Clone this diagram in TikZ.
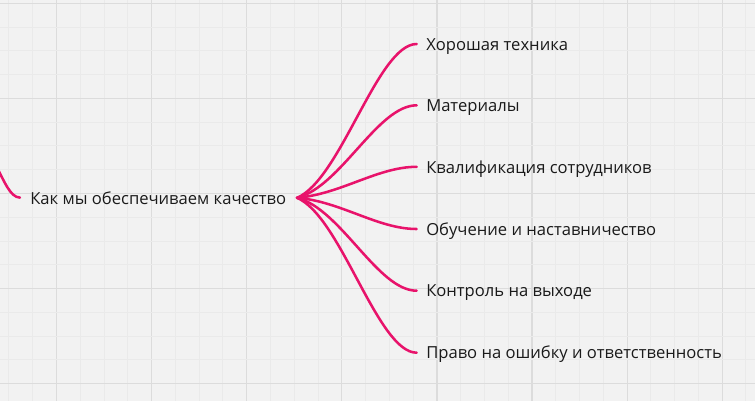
\documentclass[tikz,border=0pt]{standalone}
\usepackage{fontspec}
\setmainfont{Open Sans}
\begin{document}
\begin{tikzpicture}[x=0.75pt,y=-0.75pt,
  branchline/.style={draw=pinkc,line width=1.9pt,line cap=round},
  label/.style={inner sep=0pt,anchor=base west,text=textc,font=\fontsize{12.45}{14}\selectfont},
  minorgrid/.style={draw=gridminor,line width=0.75pt},
  majorgrid/.style={draw=gridmajor,line width=0.9pt}]
\definecolor{pinkc}{HTML}{E8136B}
\definecolor{textc}{HTML}{1A1A1A}
\definecolor{bgc}{HTML}{F2F2F2}
\definecolor{gridminor}{HTML}{EAEAEA}
\definecolor{gridmajor}{HTML}{DCDCDC}
\useasboundingbox (0,0) rectangle (755,401);
\fill[bgc] (0,0) rectangle (755,401);
\begin{scope}
\clip (0,0) rectangle (755,401);
\foreach \k in {0,...,31}{
  \pgfmathsetmacro{\xx}{8.95+23.775*\k}
  \pgfmathtruncatemacro{\m}{mod(\k,4)}
  \ifnum\m=2 \draw[majorgrid] (\xx,0) -- (\xx,401);
  \else \draw[minorgrid] (\xx,0) -- (\xx,401); \fi
}
\foreach \k in {0,...,16}{
  \pgfmathsetmacro{\yy}{3.3+23.775*\k}
  \pgfmathtruncatemacro{\m}{mod(\k,4)}
  \ifnum\m=0 \draw[majorgrid] (0,\yy) -- (755,\yy);
  \else \draw[minorgrid] (0,\yy) -- (755,\yy); \fi
}
% left incoming connector
\coordinate (lp) at (-4,166);
\coordinate (rin) at (20,197.6);
\draw[branchline] (lp) .. controls +(8,14) and +(-10,0) .. (rin);
\end{scope}

\node[label] (root) at (30,204) {Как мы обеспечиваем качество};
\coordinate (r) at (297,197.8);

\node[label] (t1) at (426,50) {Хорошая техника};
\node[label] (t2) at (426,111.5) {Материалы};
\node[label] (t3) at (426,173) {Квалификация сотрудников};
\node[label] (t4) at (426,235) {Обучение и наставничество};
\node[label] (t5) at (426,296.7) {Контроль на выходе};
\node[label] (t6) at (426,358.7) {Право на ошибку и ответственность};

\coordinate (b1) at (416.7,44);
\coordinate (b2) at (416.7,105.3);
\coordinate (b3) at (416.7,166.8);
\coordinate (b4) at (416.7,229);
\coordinate (b5) at (416.7,290.7);
\coordinate (b6) at (416.7,352.7);

\draw[branchline] (r) .. controls +(44,-18.5) and +(-39,0) .. (b1);
\draw[branchline] (r) .. controls +(44,-11.2) and +(-39,0) .. (b2);
\draw[branchline] (r) .. controls +(44,-3.7) and +(-39,0) .. (b3);
\draw[branchline] (r) .. controls +(44,3.7) and +(-39,0) .. (b4);
\draw[branchline] (r) .. controls +(44,11.2) and +(-39,0) .. (b5);
\draw[branchline] (r) .. controls +(44,18.6) and +(-39,0) .. (b6);
\end{tikzpicture}
\end{document}
